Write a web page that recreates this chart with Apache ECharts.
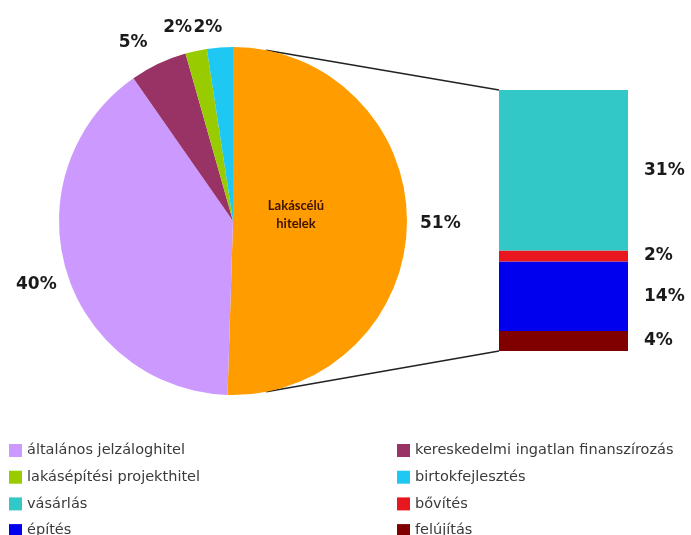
<!DOCTYPE html>
<html>
<head>
<meta charset="utf-8">
<script src="https://cdn.jsdelivr.net/npm/echarts@6/dist/echarts.min.js"></script>
<style>
  html, body { margin: 0; padding: 0; background: #fff; }
  #chart { width: 691px; height: 535px; }
</style>
</head>
<body>
<div id="chart"></div>
<script>
// pie: loan types (share of total, %)
const pieNames = ['Lakáscélú hitelek', 'általános jelzáloghitel', 'kereskedelmi ingatlan finanszírozás', 'lakásépítési projekthitel', 'birtokfejlesztés']
const pieValues = [50.5, 39.8, 5.3, 2.0, 2.4]
const pieColors = ['#ff9c00', '#cc99ff', '#993366', '#99cc00', '#1ec8f2']

// stacked bar: breakdown of Lakáscélú hitelek (top to bottom)
const barNames = ['vásárlás', 'bővítés', 'építés', 'felújítás']
const barValues = [31.2, 2.1, 13.5, 3.9]
const barColors = ['#33c8c8', '#e8161e', '#0000ee', '#800000']

const legendLeft = ['általános jelzáloghitel', 'lakásépítési projekthitel', 'vásárlás', 'építés']
const legendRight = ['kereskedelmi ingatlan finanszírozás', 'birtokfejlesztés', 'bővítés', 'felújítás']

// layout
const cx = 233, cy = 221, r = 174
const gridBox = { left: 499, top: 90, width: 129, height: 261 }
const labelLens = [12, 12, 23, 24, 20]   // gap between pie edge and % label, per slice
const labelShift = [[-4, 0], [7, 11], [4, 0], [6, 0], [9, 0]]  // small nudges, per slice
const FONT = '"DejaVu Sans", sans-serif'

const chart = echarts.init(document.getElementById('chart'))

const pctLabel = { fontFamily: FONT, fontSize: 17, fontWeight: 'bold', color: '#1a1a1a' }

// bars are stacked bottom-up in echarts, so reverse the order
const barSeries = barNames.map(function (name, i) { return { name: name, i: i } }).reverse().map(function (o) {
  return {
    name: o.name, type: 'bar', stack: 'total',
    barWidth: '100%',
    data: [barValues[o.i]],
    itemStyle: { color: barColors[o.i] },
    label: {
      show: true, position: 'right', distance: 16,
      formatter: function (p) { return Math.round(p.value) + '%' },
      ...pctLabel
    }
  }
})

// connector lines from the pie edge to the bar
const a = 11 * Math.PI / 180
const barTotal = barValues.reduce(function (s, v) { return s + v }, 0)

const legendBase = {
  orient: 'vertical', top: 443, height: 120, padding: 0,
  itemWidth: 13, itemHeight: 13, itemGap: 11.7, icon: 'rect',
  textStyle: { fontFamily: FONT, fontSize: 14.5, lineHeight: 14, color: '#3a3a3a' }
}

chart.setOption({
  animation: false,
  legend: [
    { ...legendBase, data: legendLeft, left: 9 },
    { ...legendBase, data: legendRight, left: 397 }
  ],
  grid: gridBox,
  xAxis: { type: 'category', data: ['Lakáscélú hitelek'], show: false },
  yAxis: { type: 'value', min: 0, max: barTotal, show: false },
  graphic: [
    { type: 'line', shape: { x1: cx + r * Math.sin(a), y1: cy - r * Math.cos(a), x2: gridBox.left, y2: gridBox.top }, style: { stroke: '#222', lineWidth: 1.5 } },
    { type: 'line', shape: { x1: cx + r * Math.sin(a), y1: cy + r * Math.cos(a), x2: gridBox.left, y2: gridBox.top + gridBox.height }, style: { stroke: '#222', lineWidth: 1.5 } }
  ],
  series: [
    {
      name: 'hitelek', type: 'pie',
      center: [cx, cy], radius: [0, r],
      startAngle: 90, clockwise: true,
      avoidLabelOverlap: false,
      data: pieNames.map(function (n, i) {
        return {
          name: n, value: pieValues[i], itemStyle: { color: pieColors[i] },
          labelLine: { length: labelLens[i] }
        }
      }),
      label: {
        show: true, position: 'outside',
        formatter: function (p) { return Math.round(p.percent) + '%' },
        ...pctLabel
      },
      labelLine: { show: false, length: 12, length2: 0 },
      labelLayout: function (p) {
        const s = labelShift[p.dataIndex]
        return { dx: s[0], dy: s[1] }
      }
    },
    {
      // inner caption for the housing-loan slice
      name: 'felirat', type: 'pie', silent: true,
      center: [cx, cy], radius: [0, 124],
      startAngle: 90, clockwise: true,
      data: pieNames.map(function (n, i) {
        return {
          name: n, value: pieValues[i],
          itemStyle: { color: 'rgba(0,0,0,0)' },
          label: { show: i === 0 }
        }
      }),
      label: {
        position: 'inner', formatter: 'Lakáscélú\nhitelek',
        fontFamily: 'Lato, sans-serif', fontSize: 13, fontWeight: 'bold', color: '#3d1300', lineHeight: 18
      },
      labelLayout: function () { return { dx: -2, dy: -7 } },
      labelLine: { show: false }
    },
    ...barSeries
  ]
})
</script>
</body>
</html>
